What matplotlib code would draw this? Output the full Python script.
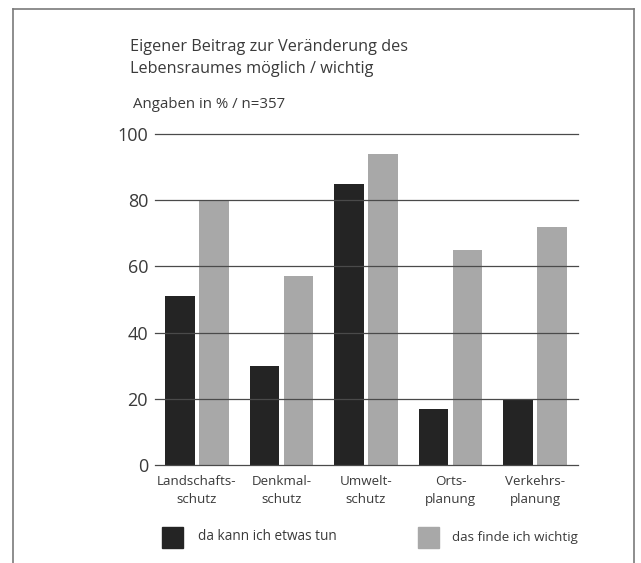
import numpy as np
import matplotlib.pyplot as plt
from matplotlib.patches import Rectangle
from matplotlib.lines import Line2D

categories = ["Landschafts-\nschutz", "Denkmal-\nschutz", "Umwelt-\nschutz",
              "Orts-\nplanung", "Verkehrs-\nplanung"]
kann_tun = [51, 30, 85, 17, 20]
wichtig = [80, 57, 94, 65, 72]
y_ticks = [0, 20, 40, 60, 80, 100]

title = "Eigener Beitrag zur Veränderung des\nLebensraumes möglich / wichtig"
subtitle = "Angaben in % / n=357"
legend_labels = ["da kann ich etwas tun", "das finde ich wichtig"]

plt.rcParams['font.family'] = ['Open Sans', 'DejaVu Sans']

W, H = 641, 563
fig = plt.figure(figsize=(W / 100, H / 100), dpi=100)
fig.patch.set_facecolor("white")

# frame around the chart (left, top, right)
frame = dict(color="#7a7a7a", lw=1.2, transform=fig.transFigure)
fig.add_artist(Line2D([13 / W, 13 / W], [0, 1 - 9 / H], **frame))
fig.add_artist(Line2D([13 / W, 634 / W], [1 - 9 / H, 1 - 9 / H], **frame))
fig.add_artist(Line2D([634 / W, 634 / W], [0, 1 - 9 / H], **frame))

ax = fig.add_axes([155 / W, 1 - 465 / H, (578 - 155) / W, (465 - 134) / H])
x = np.arange(len(categories))
dark = "#242424"
light = "#a8a8a8"
ax.bar(x - 0.2, kann_tun, width=0.35, color=dark, zorder=2)
ax.bar(x + 0.2, wichtig, width=0.35, color=light, zorder=2)

for t in y_ticks:
    ax.axhline(t, color="#4a4a4a", lw=0.9, zorder=3, clip_on=False)

ax.set_xlim(-0.497, 4.509)
ax.set_ylim(0, 100)
for s in ax.spines.values():
    s.set_visible(False)
ax.set_yticks(y_ticks)
ax.set_yticklabels([str(t) for t in y_ticks], fontsize=13, color="#3a3a3a")
ax.set_xticks(x)
ax.set_xticklabels(categories, fontsize=9.6, color="#3a3a3a", linespacing=1.5)
ax.tick_params(axis="both", length=0)
ax.tick_params(axis="y", pad=5)
ax.tick_params(axis="x", pad=7)

fig.text(130 / W, 1 - 39 / H, title, fontsize=11.7, color="#3a3a3a", va="top",
         linespacing=1.5)
fig.text(133 / W, 1 - 104 / H, subtitle, fontsize=10.8, color="#3a3a3a", va="center")

# legend
fig.add_artist(Rectangle((162 / W, 1 - 548 / H), 21 / W, 21 / H, color=dark,
                         transform=fig.transFigure))
fig.text(198 / W, 1 - 537 / H, legend_labels[0], fontsize=9.8, color="#3a3a3a", va="center")
fig.add_artist(Rectangle((418 / W, 1 - 548 / H), 21 / W, 21 / H, color=light,
                         transform=fig.transFigure))
fig.text(452 / W, 1 - 537 / H, legend_labels[1], fontsize=9.6, color="#3a3a3a", va="center")

fig.savefig("out.png", dpi=100)
